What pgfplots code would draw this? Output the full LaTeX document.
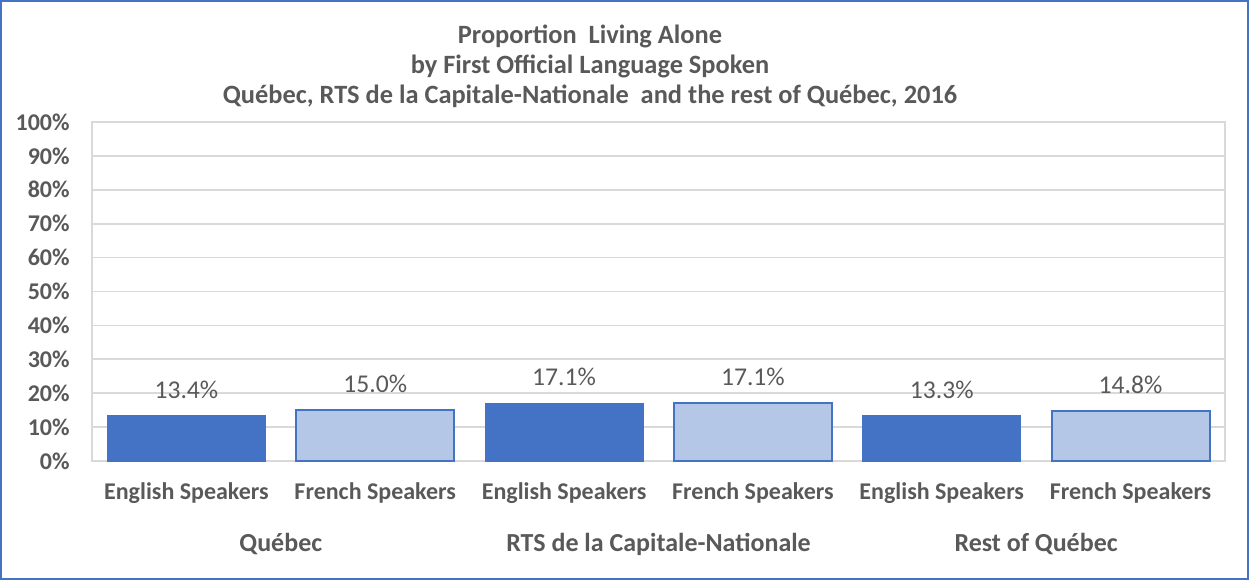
\documentclass[border=0pt]{standalone}
\usepackage{pgfplots}
\pgfplotsset{compat=1.18}
\usepackage{fontspec}
\setmainfont{Carlito}
\definecolor{dblue}{HTML}{4472C4}
\definecolor{lblue}{HTML}{B4C7E7}
\definecolor{tgray}{HTML}{595959}
\definecolor{ggray}{HTML}{D9D9D9}
\begin{document}
\begin{tikzpicture}
\begin{axis}[
  at={(0,0)}, anchor=south west,
  scale only axis, width=566.5pt, height=169.5pt,
  xmin=-0.5, xmax=5.5, ymin=0, ymax=100,
  ytick={0,10,...,100},
  yticklabel={\pgfmathprintnumber{\tick}\%},
  ymajorgrids, grid style={ggray, line width=0.85pt},
  axis line style={ggray, line width=0.85pt},
  major tick length=0pt,
  xtick={0,1,2,3,4,5},
  xticklabels={English Speakers, French Speakers, English Speakers, French Speakers, English Speakers, French Speakers},
  ticklabel style={font=\fontsize{12}{14}\selectfont\bfseries, text=tgray},
  /pgf/number format/assume math mode=true,
  yticklabel style={anchor=east, inner sep=0pt, xshift=-11pt},
  xticklabel style={anchor=center, inner sep=0pt, yshift=-16pt},
  ybar, bar width=79pt, bar shift=0pt,
  nodes near coords={\pgfmathprintnumber[fixed,fixed zerofill,precision=1]{\pgfplotspointmeta}\%},
  every node near coord/.append style={anchor=center, yshift=13pt, font=\fontsize{12.8}{14}\selectfont, text=tgray},
  clip=false,
]
\addplot[fill=dblue, draw=dblue, line width=0.5pt] coordinates {(0,13.4) (2,17.1) (4,13.3)};
\addplot[fill=lblue, draw=dblue, line width=1pt] coordinates {(1,15.0) (3,17.1) (5,14.8)};
\node[font=\fontsize{13}{15}\selectfont\bfseries, text=tgray] at (axis cs:0.5,0) [yshift=-41.5pt] {Québec};
\node[font=\fontsize{13}{15}\selectfont\bfseries, text=tgray] at (axis cs:2.5,0) [yshift=-41.5pt] {RTS de la Capitale-Nationale};
\node[font=\fontsize{13}{15}\selectfont\bfseries, text=tgray] at (axis cs:4.5,0) [yshift=-41.5pt] {Rest of Québec};
\end{axis}
\node[align=center, font=\fontsize{13.2}{15}\selectfont\bfseries, text=tgray] at (249pt,197.5pt) {Proportion\hspace{0.45em}Living Alone\\by First Official Language Spoken\\Québec, RTS de la Capitale-Nationale\hspace{0.45em}and the rest of Québec, 2016};
\draw[dblue, line width=1pt] (-45.5pt,-59pt) rectangle (578pt,230pt);
\end{tikzpicture}
\end{document}
